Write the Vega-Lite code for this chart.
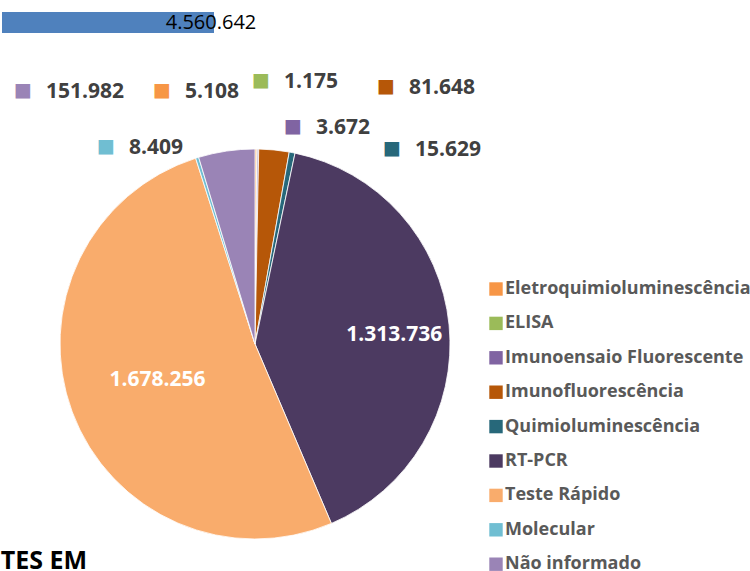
{
  "$schema": "https://vega.github.io/schema/vega-lite/v6.json",
  "padding": {"left": 0, "top": 12, "right": 0, "bottom": 0},
  "bounds": "flush",
  "spacing": 116,
  "resolve": {"scale": {"color": "independent", "theta": "independent", "x": "independent", "y": "independent"}, "legend": {"color": "independent"}},
  "vconcat": [
    {
      "width": 212,
      "height": 21,
      "data": {"values": [{"indicador": "Total de testes", "valor": 4560642}]},
      "encoding": {
        "x": {"field": "valor", "type": "quantitative", "scale": {"nice": false, "zero": true}, "axis": null},
        "y": {"field": "indicador", "type": "nominal", "scale": {"paddingInner": 0, "paddingOuter": 0}, "axis": null}
      },
      "layer": [
        {"mark": {"type": "bar", "color": "#4F81BD"}},
        {"mark": {"type": "text", "align": "center", "baseline": "middle", "font": "Open Sans", "fontSize": 20, "color": "#000000", "dx": -3, "dy": 0},
         "encoding": {"text": {"field": "valor", "type": "quantitative", "format": ",d"}}}
      ]
    },
    {
      "bounds": "flush",
      "spacing": 5,
      "resolve": {"scale": {"color": "independent", "theta": "independent"}, "legend": {"color": "independent"}},
      "vconcat": [
        {
          "width": 506,
          "height": 390,
          "data": {"values": [
            {"metodo": "Eletroquimioluminescência", "valor": 5108, "ordem": 1},
            {"metodo": "ELISA", "valor": 1175, "ordem": 2},
            {"metodo": "Imunoensaio Fluorescente", "valor": 3672, "ordem": 3},
            {"metodo": "Imunofluorescência", "valor": 81648, "ordem": 4},
            {"metodo": "Quimioluminescência", "valor": 15629, "ordem": 5},
            {"metodo": "RT-PCR", "valor": 1313736, "ordem": 6},
            {"metodo": "Teste Rápido", "valor": 1678256, "ordem": 7},
            {"metodo": "Molecular", "valor": 8409, "ordem": 8},
            {"metodo": "Não informado", "valor": 151982, "ordem": 9}
          ]},
          "encoding": {
            "theta": {"field": "valor", "type": "quantitative", "stack": true},
            "order": {"field": "ordem", "type": "quantitative"},
            "color": {
              "field": "metodo", "type": "nominal",
              "scale": {
                "domain": ["Eletroquimioluminescência", "ELISA", "Imunoensaio Fluorescente", "Imunofluorescência", "Quimioluminescência", "RT-PCR", "Teste Rápido", "Molecular", "Não informado"],
                "range": ["#F79646", "#9BBB59", "#8064A2", "#B65708", "#27687A", "#4C3A61", "#F9AC6C", "#70BED2", "#9A84B6"]
              },
              "legend": {
                "orient": "none", "legendX": 485, "legendY": 131, "title": null, "padding": 0,
                "symbolType": "square", "symbolSize": 180, "symbolStrokeWidth": 0,
                "labelFont": "Open Sans", "labelFontSize": 18, "labelFontWeight": "bold", "labelColor": "#595959",
                "rowPadding": 16.4, "labelOffset": 0, "labelLimit": 400
              }
            }
          },
          "layer": [
            {"mark": {"type": "arc", "stroke": "#ffffff", "strokeWidth": 0.8}},
            {"mark": {"type": "text", "radius": 140, "dy": 5, "align": "center", "baseline": "middle", "font": "Open Sans", "fontSize": 21, "fontWeight": "bold"},
             "encoding": {"color": {"value": "#ffffff"}, "detail": {"field": "metodo", "type": "nominal"},
               "text": {"condition": {"test": "datum.metodo === 'RT-PCR'", "field": "valor", "type": "quantitative", "format": ",d"}, "value": ""}}},
            {"mark": {"type": "text", "radius": 104, "align": "center", "baseline": "middle", "font": "Open Sans", "fontSize": 21, "fontWeight": "bold"},
             "encoding": {"color": {"value": "#ffffff"}, "detail": {"field": "metodo", "type": "nominal"},
               "text": {"condition": {"test": "datum.metodo === 'Teste Rápido'", "field": "valor", "type": "quantitative", "format": ",d"}, "value": ""}}},

            {"transform": [{"stack": "valor", "groupby": [], "sort": [{"field": "ordem", "order": "ascending"}], "as": ["inicio", "fim"]}, {"filter": "datum.metodo === 'Não informado'"}],
             "mark": {"type": "text", "radius": 195, "dx": -152.7, "dy": -59.0, "align": "left", "baseline": "alphabetic", "font": "Open Sans", "fontSize": 21, "fontWeight": "bold"},
             "encoding": {"theta": {"field": "inicio", "type": "quantitative", "stack": null}, "color": {"value": "#404040"},
               "text": {"field": "valor", "type": "quantitative", "format": ",d"}}},
            {"transform": [{"stack": "valor", "groupby": [], "sort": [{"field": "ordem", "order": "ascending"}], "as": ["inicio", "fim"]}, {"filter": "datum.metodo === 'Eletroquimioluminescência'"}],
             "mark": {"type": "text", "radius": 195, "dx": -70, "dy": -50.7, "align": "left", "baseline": "alphabetic", "font": "Open Sans", "fontSize": 21, "fontWeight": "bold"},
             "encoding": {"theta": {"field": "inicio", "type": "quantitative", "stack": null}, "color": {"value": "#404040"},
               "text": {"field": "valor", "type": "quantitative", "format": ",d"}}},
            {"transform": [{"stack": "valor", "groupby": [], "sort": [{"field": "ordem", "order": "ascending"}], "as": ["inicio", "fim"]}, {"filter": "datum.metodo === 'ELISA'"}],
             "mark": {"type": "text", "radius": 195, "dx": 27.1, "dy": -61.3, "align": "left", "baseline": "alphabetic", "font": "Open Sans", "fontSize": 21, "fontWeight": "bold"},
             "encoding": {"theta": {"field": "inicio", "type": "quantitative", "stack": null}, "color": {"value": "#404040"},
               "text": {"field": "valor", "type": "quantitative", "format": ",d"}}},
            {"transform": [{"stack": "valor", "groupby": [], "sort": [{"field": "ordem", "order": "ascending"}], "as": ["inicio", "fim"]}, {"filter": "datum.metodo === 'Imunoensaio Fluorescente'"}],
             "mark": {"type": "text", "radius": 195, "dx": 58.6, "dy": -15.0, "align": "left", "baseline": "alphabetic", "font": "Open Sans", "fontSize": 21, "fontWeight": "bold"},
             "encoding": {"theta": {"field": "inicio", "type": "quantitative", "stack": null}, "color": {"value": "#404040"},
               "text": {"field": "valor", "type": "quantitative", "format": ",d"}}},
            {"transform": [{"stack": "valor", "groupby": [], "sort": [{"field": "ordem", "order": "ascending"}], "as": ["inicio", "fim"]}, {"filter": "datum.metodo === 'Imunofluorescência'"}],
             "mark": {"type": "text", "radius": 195, "dx": 150.3, "dy": -55.0, "align": "left", "baseline": "alphabetic", "font": "Open Sans", "fontSize": 21, "fontWeight": "bold"},
             "encoding": {"theta": {"field": "inicio", "type": "quantitative", "stack": null}, "color": {"value": "#404040"},
               "text": {"field": "valor", "type": "quantitative", "format": ",d"}}},
            {"transform": [{"stack": "valor", "groupby": [], "sort": [{"field": "ordem", "order": "ascending"}], "as": ["inicio", "fim"]}, {"filter": "datum.metodo === 'Quimioluminescência'"}],
             "mark": {"type": "text", "radius": 195, "dx": 125.75, "dy": 4.0, "align": "left", "baseline": "alphabetic", "font": "Open Sans", "fontSize": 21, "fontWeight": "bold"},
             "encoding": {"theta": {"field": "inicio", "type": "quantitative", "stack": null}, "color": {"value": "#404040"},
               "text": {"field": "valor", "type": "quantitative", "format": ",d"}}},
            {"transform": [{"stack": "valor", "groupby": [], "sort": [{"field": "ordem", "order": "ascending"}], "as": ["inicio", "fim"]}, {"filter": "datum.metodo === 'Molecular'"}],
             "mark": {"type": "text", "radius": 195, "dx": -66.7, "dy": -4.25, "align": "left", "baseline": "alphabetic", "font": "Open Sans", "fontSize": 21, "fontWeight": "bold"},
             "encoding": {"theta": {"field": "inicio", "type": "quantitative", "stack": null}, "color": {"value": "#404040"},
               "text": {"field": "valor", "type": "quantitative", "format": ",d"}}},

            {"transform": [{"stack": "valor", "groupby": [], "sort": [{"field": "ordem", "order": "ascending"}], "as": ["inicio", "fim"]}, {"filter": "datum.metodo === 'Não informado'"}],
             "mark": {"type": "text", "radius": 195, "dx": -184.7, "dy": -61.0, "align": "left", "baseline": "alphabetic", "font": "DejaVu Sans", "fontSize": 19, "text": "■"},
             "encoding": {"theta": {"field": "inicio", "type": "quantitative", "stack": null}}},
            {"transform": [{"stack": "valor", "groupby": [], "sort": [{"field": "ordem", "order": "ascending"}], "as": ["inicio", "fim"]}, {"filter": "datum.metodo === 'Eletroquimioluminescência'"}],
             "mark": {"type": "text", "radius": 195, "dx": -102, "dy": -52.7, "align": "left", "baseline": "alphabetic", "font": "DejaVu Sans", "fontSize": 19, "text": "■"},
             "encoding": {"theta": {"field": "inicio", "type": "quantitative", "stack": null}}},
            {"transform": [{"stack": "valor", "groupby": [], "sort": [{"field": "ordem", "order": "ascending"}], "as": ["inicio", "fim"]}, {"filter": "datum.metodo === 'ELISA'"}],
             "mark": {"type": "text", "radius": 195, "dx": -4.9, "dy": -63.3, "align": "left", "baseline": "alphabetic", "font": "DejaVu Sans", "fontSize": 19, "text": "■"},
             "encoding": {"theta": {"field": "inicio", "type": "quantitative", "stack": null}}},
            {"transform": [{"stack": "valor", "groupby": [], "sort": [{"field": "ordem", "order": "ascending"}], "as": ["inicio", "fim"]}, {"filter": "datum.metodo === 'Imunoensaio Fluorescente'"}],
             "mark": {"type": "text", "radius": 195, "dx": 26.6, "dy": -17.0, "align": "left", "baseline": "alphabetic", "font": "DejaVu Sans", "fontSize": 19, "text": "■"},
             "encoding": {"theta": {"field": "inicio", "type": "quantitative", "stack": null}}},
            {"transform": [{"stack": "valor", "groupby": [], "sort": [{"field": "ordem", "order": "ascending"}], "as": ["inicio", "fim"]}, {"filter": "datum.metodo === 'Imunofluorescência'"}],
             "mark": {"type": "text", "radius": 195, "dx": 118.3, "dy": -57.0, "align": "left", "baseline": "alphabetic", "font": "DejaVu Sans", "fontSize": 19, "text": "■"},
             "encoding": {"theta": {"field": "inicio", "type": "quantitative", "stack": null}}},
            {"transform": [{"stack": "valor", "groupby": [], "sort": [{"field": "ordem", "order": "ascending"}], "as": ["inicio", "fim"]}, {"filter": "datum.metodo === 'Quimioluminescência'"}],
             "mark": {"type": "text", "radius": 195, "dx": 93.75, "dy": 2.0, "align": "left", "baseline": "alphabetic", "font": "DejaVu Sans", "fontSize": 19, "text": "■"},
             "encoding": {"theta": {"field": "inicio", "type": "quantitative", "stack": null}}},
            {"transform": [{"stack": "valor", "groupby": [], "sort": [{"field": "ordem", "order": "ascending"}], "as": ["inicio", "fim"]}, {"filter": "datum.metodo === 'Molecular'"}],
             "mark": {"type": "text", "radius": 195, "dx": -98.7, "dy": -6.25, "align": "left", "baseline": "alphabetic", "font": "DejaVu Sans", "fontSize": 19, "text": "■"},
             "encoding": {"theta": {"field": "inicio", "type": "quantitative", "stack": null}}}
          ]
        },
        {
          "width": 84,
          "height": 34,
          "data": {"values": [{"texto": "TES EM"}]},
          "mark": {"type": "text", "align": "center", "baseline": "middle", "font": "Open Sans", "fontSize": 25, "fontWeight": "bold", "color": "#000000"},
          "encoding": {"text": {"field": "texto", "type": "nominal"}}
        }
      ]
    }
  ],
  "config": {
    "view": {"stroke": null},
    "locale": {"number": {"decimal": ",", "thousands": ".", "grouping": [3], "currency": ["R$", ""]}}
  }
}
